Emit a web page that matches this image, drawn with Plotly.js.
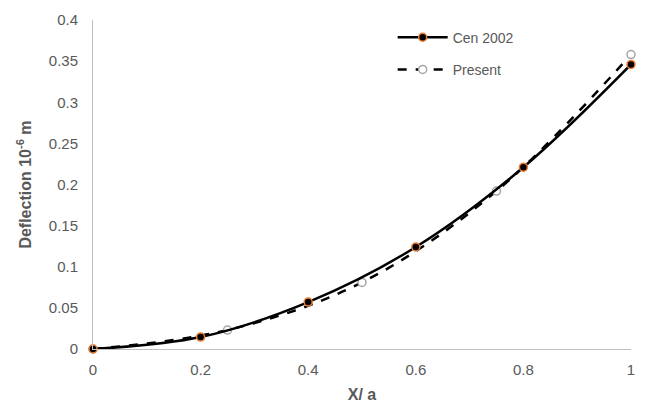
<!DOCTYPE html>
<html><head><meta charset="utf-8">
<script src="https://cdn.plot.ly/plotly-3.0.1.min.js"></script>
<style>html,body{margin:0;padding:0;background:#fff}#chart{width:646px;height:403px}</style>
</head><body><div id="chart"></div>
<script>
const cenX = [0, 0.2, 0.4, 0.6, 0.8, 1.0];
const cenY = [0, 0.0145, 0.057, 0.124, 0.221, 0.346];
const presX = [0, 0.25, 0.5, 0.75, 1.0];
const presY = [0, 0.023, 0.081, 0.192, 0.358];
const xTicks = [0, 0.2, 0.4, 0.6, 0.8, 1];
const yTicks = [0, 0.05, 0.1, 0.15, 0.2, 0.25, 0.3, 0.35, 0.4];

const traces = [
  {x: presX, y: presY, name: 'Present', mode: 'lines+markers', legendgroup: 'b', legendrank: 2, cliponaxis: false,
   line: {color: '#000', width: 2.5, dash: 'dash', shape: 'spline'},
   marker: {color: '#fff', size: 8, line: {color: '#A5A5A5', width: 1.5}}},
  {x: cenX, y: cenY, name: 'Cen 2002', mode: 'lines+markers', legendgroup: 'a', legendrank: 1, cliponaxis: false,
   line: {color: '#000', width: 2.5, shape: 'spline'},
   marker: {color: '#000', size: 8, line: {color: '#ED7D31', width: 1.5}}}
];
const layout = {
  width: 646, height: 403,
  margin: {l: 93, r: 15, t: 20, b: 54},
  paper_bgcolor: '#fff', plot_bgcolor: '#fff',
  font: {family: 'Liberation Sans, Arial, sans-serif', color: '#595959', size: 15},
  showlegend: true,
  legend: {x: 0.557, y: 0.995, xanchor: 'left', yanchor: 'top', bgcolor: 'rgba(0,0,0,0)',
           font: {size: 14, color: '#595959'}, itemwidth: 50, tracegroupgap: 11, traceorder: 'grouped'},
  xaxis: {range: [0, 1], tickvals: xTicks, ticktext: xTicks.map(String), showgrid: false, zeroline: false,
          showline: true, linecolor: '#BFBFBF', linewidth: 1, ticks: 'outside', ticklen: 7, tickcolor: 'rgba(0,0,0,0)',
          title: {text: '<b>X/ a</b>', font: {size: 16, color: '#595959'}, standoff: 16}},
  yaxis: {range: [0, 0.4], tickvals: yTicks, ticktext: yTicks.map(String), showgrid: false, zeroline: false,
          showline: true, linecolor: '#BFBFBF', linewidth: 1, ticks: 'outside', ticklen: 11, tickcolor: 'rgba(0,0,0,0)',
          title: {text: '<b>Deflection 10<sup>-6</sup> m</b>', font: {size: 16, color: '#595959'}, standoff: 13}}
};
Plotly.newPlot('chart', traces, layout, {displayModeBar: false});
</script></body></html>
